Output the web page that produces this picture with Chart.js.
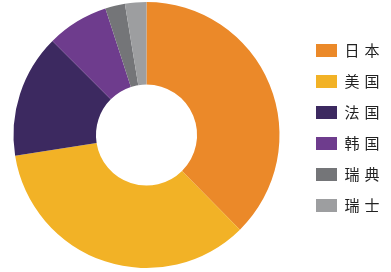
<!DOCTYPE html>
<html>
<head>
<meta charset="utf-8">
<script src="https://cdn.jsdelivr.net/npm/chart.js@4/dist/chart.umd.min.js"></script>
<style>
  html, body { margin: 0; padding: 0; background: #fff; }
  #wrap { width: 391px; height: 272px; }
</style>
</head>
<body>
<div id="wrap"><canvas id="donutChart"></canvas></div>
<script>
// 数据
const countries = ['日本', '美国', '法国', '韩国', '瑞典', '瑞士'];
const shares = [37.6, 34.9, 15.0, 7.5, 2.4, 2.6];
const colors = ['#EB8929', '#F2B226', '#3C2960', '#6E3C8D', '#747578', '#9D9EA0'];

// 图例宽度与位置微调
const LEGEND_WIDTH = 111;
const LEGEND_DX = 20;
const LEGEND_DY = -7;

const legendTweak = {
    id: 'legendTweak',
    beforeInit(chart) {
        chart.ctx.letterSpacing = '5px';
        const legend = chart.legend;
        const fit = legend.fit;
        legend.fit = function() {
            fit.call(this);
            this.width = LEGEND_WIDTH;
        };
        const draw = legend.draw;
        legend.draw = function() {
            this.left += LEGEND_DX; this.right += LEGEND_DX;
            this.top += LEGEND_DY; this.bottom += LEGEND_DY;
            draw.apply(this, arguments);
            this.left -= LEGEND_DX; this.right -= LEGEND_DX;
            this.top -= LEGEND_DY; this.bottom -= LEGEND_DY;
        };
    },
    beforeUpdate(chart) { chart.ctx.letterSpacing = '5px'; },
    beforeDraw(chart) { chart.ctx.letterSpacing = '5px'; }
};

const ctx = document.getElementById('donutChart').getContext('2d');
new Chart(ctx, {
    type: 'doughnut',
    data: {
        labels: countries,
        datasets: [{
            data: shares,
            backgroundColor: colors,
            borderWidth: 0
        }]
    },
    options: {
        responsive: true,
        maintainAspectRatio: false,
        animation: false,
        cutout: '38%',
        layout: { padding: { top: 2, bottom: 4, left: 13, right: 0 } },
        plugins: {
            tooltip: { enabled: false },
            legend: {
                position: 'right',
                labels: {
                    boxWidth: 21,
                    boxHeight: 13,
                    padding: 16,
                    color: '#222',
                    font: { family: '"Noto Sans CJK SC"', size: 15 }
                }
            }
        }
    },
    plugins: [legendTweak]
});
</script>
</body>
</html>
